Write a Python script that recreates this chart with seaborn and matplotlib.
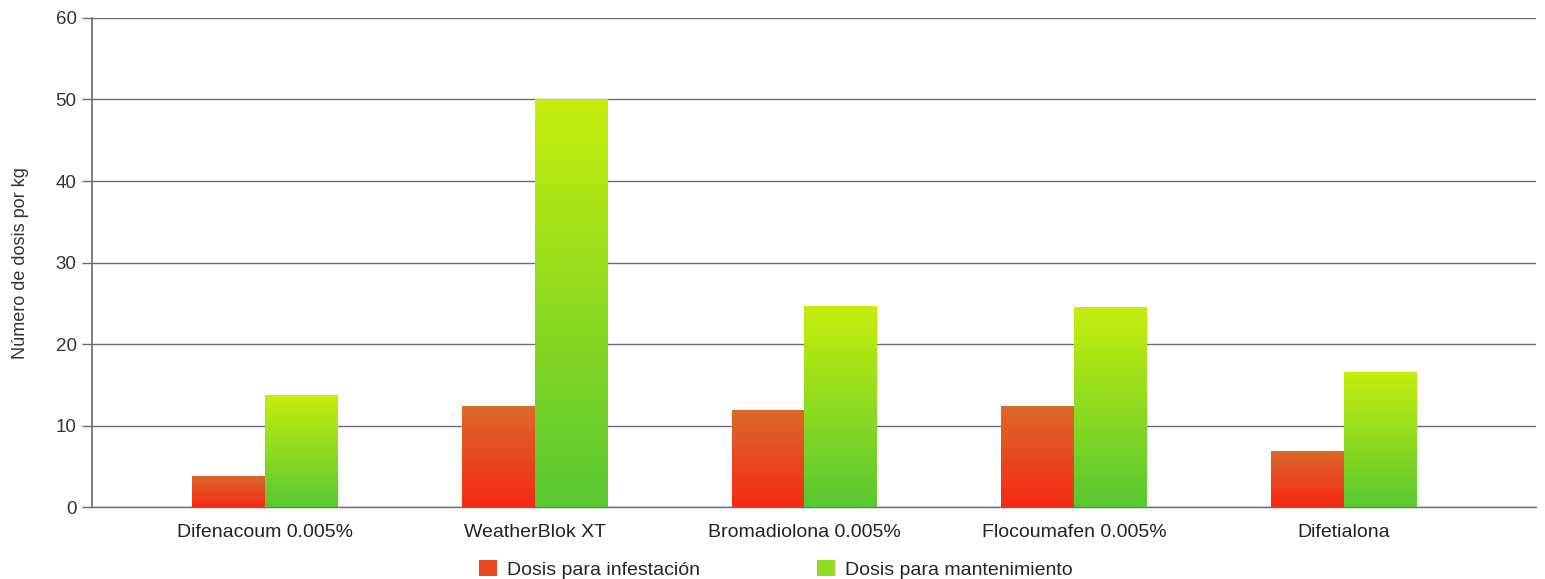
"""Dosis por kg: bar chart with gradient-filled bars."""

import matplotlib

matplotlib.use("Agg")

import matplotlib.pyplot as plt
import matplotlib.colors as mcolors
import numpy as np
import pandas as pd
import seaborn as sns

productos = ["Difenacoum 0.005%", "WeatherBlok XT", "Bromadiolona 0.005%",
             "Flocoumafen 0.005%", "Difetialona"]
infestacion = [3.8, 12.4, 11.9, 12.4, 6.9]
mantenimiento = [13.7, 50.0, 24.7, 24.6, 16.6]
series = ["Dosis para infestación", "Dosis para mantenimiento"]
yticks = [0, 10, 20, 30, 40, 50, 60]

# gradient per series: (top colour, bottom colour)
gradients = {
    series[0]: ("#dc6a2c", "#f42a12"),
    series[1]: ("#c6ee0c", "#58c832"),
}

df = pd.DataFrame({
    "Producto": productos * 2,
    "Valor": infestacion + mantenimiento,
    "Serie": [series[0]] * len(productos) + [series[1]] * len(productos),
})

sns.set_theme(style="white")
plt.rcParams["font.family"] = ["Liberation Sans", "DejaVu Sans"]

fig, ax = plt.subplots(figsize=(15.45, 5.79), dpi=100)
fig.subplots_adjust(left=0.0595, right=0.994, top=0.969, bottom=0.124)

palette = {s: gradients[s][1] for s in series}
sns.barplot(data=df, x="Producto", y="Valor", hue="Serie", order=productos,
            hue_order=series, palette=palette, width=0.54, ax=ax,
            linewidth=0, saturation=1, zorder=3)

ax.set_yticks(yticks)
ax.yaxis.grid(True, color="#6c6a80", linewidth=1.0, zorder=0)
ax.set_axisbelow(True)
ax.xaxis.grid(False)

# paint gradient into each bar
n = len(productos)
bars = [p for p in ax.patches if p.get_height() > 0][: 2 * n]
for i, patch in enumerate(bars):
    top_c, bot_c = gradients[series[i // n]]
    cmap = mcolors.LinearSegmentedColormap.from_list("g", [bot_c, top_c])
    x0, y0 = patch.get_x(), patch.get_y()
    w, h = patch.get_width(), patch.get_height()
    grad = np.linspace(0, 1, 256).reshape(-1, 1)
    im = ax.imshow(grad, cmap=cmap, origin="lower", aspect="auto",
                   extent=(x0, x0 + w, y0, y0 + h), zorder=3)
    im.set_clip_path(patch)
    patch.set_facecolor("none")
ax.set_xlim(-0.64, 4.71)
ax.set_ylim(0, 60)

for side in ["top", "right"]:
    ax.spines[side].set_visible(False)
ax.spines["left"].set_color("#6a6a6a")
ax.spines["left"].set_linewidth(1.2)
ax.spines["bottom"].set_color("#6c6a80")
ax.spines["bottom"].set_linewidth(1.0)

ax.tick_params(axis="y", which="major", left=True, length=7, width=1.0,
               color="#6c6a80", labelsize=13.5, labelcolor="#333333", pad=4)
ax.tick_params(axis="x", bottom=False, labelsize=14, labelcolor="#222222", pad=6)
ax.set_xlabel("")
ax.set_ylabel("Número de dosis por kg", fontsize=13, color="#333333", labelpad=19)

handles, labels = ax.get_legend_handles_labels()
for h, lab in zip(handles, labels):
    top_c, bot_c = gradients[lab]
    mid = mcolors.to_hex(np.mean([mcolors.to_rgb(top_c), mcolors.to_rgb(bot_c)], axis=0))
    h.set_facecolor(mid)
ax.legend_.remove()
fig.legend(handles, labels, loc="center", bbox_to_anchor=(0.502, 0.017),
           ncol=2, frameon=False, fontsize=14, columnspacing=6.0,
           handlelength=0.95, handleheight=0.95, handletextpad=0.5,
           borderpad=0, borderaxespad=0)

fig.savefig("out.png", dpi=100)
